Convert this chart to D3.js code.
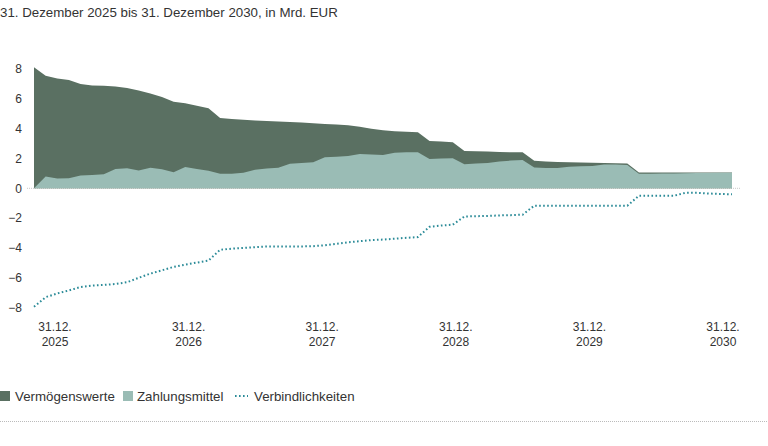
<!DOCTYPE html>
<html>
<head>
<meta charset="utf-8">
<script src="https://cdn.jsdelivr.net/npm/d3@7"></script>
<style>
  body { margin: 0; background: #fff; }
  text { font-family: "Liberation Sans", Arial, sans-serif; fill: #333; }
</style>
</head>
<body>
<script>
const canvWidth = 768, canvHeight = 446;

// monthly values, 31.12.2025 .. 31.12.2030 (61 points)
const vermoegenswerte = [
  8.12, 7.55, 7.37, 7.26, 7.00, 6.90, 6.87, 6.83, 6.73, 6.55, 6.35, 6.12, 5.80,
  5.70, 5.54, 5.37, 4.72, 4.65, 4.60, 4.55, 4.52, 4.48, 4.45, 4.41, 4.37,
  4.32, 4.27, 4.22, 4.12, 4.00, 3.90, 3.83, 3.80, 3.76, 3.18, 3.14, 3.09,
  2.50, 2.48, 2.46, 2.43, 2.42, 2.42, 1.84, 1.80, 1.77, 1.75, 1.73, 1.71,
  1.70, 1.68, 1.66, 1.06, 1.06, 1.06, 1.06, 1.06, 1.06, 1.06, 1.06, 1.06
];
const zahlungsmittel = [
  0.00, 0.79, 0.65, 0.67, 0.85, 0.90, 0.95, 1.30, 1.35, 1.20, 1.38, 1.28, 1.08,
  1.42, 1.30, 1.18, 0.97, 0.97, 1.05, 1.25, 1.32, 1.37, 1.65, 1.70, 1.75,
  2.08, 2.12, 2.16, 2.30, 2.26, 2.24, 2.38, 2.42, 2.42, 1.97, 2.00, 2.02,
  1.62, 1.66, 1.70, 1.80, 1.86, 1.89, 1.39, 1.36, 1.36, 1.44, 1.48, 1.50,
  1.60, 1.60, 1.57, 0.97, 0.98, 0.99, 1.00, 1.01, 1.02, 1.03, 1.04, 1.05
];
const verbindlichkeiten = [
  -7.95, -7.30, -7.05, -6.85, -6.62, -6.52, -6.48, -6.42, -6.30, -6.00, -5.72, -5.50, -5.27,
  -5.12, -4.98, -4.85, -4.12, -4.05, -4.00, -3.95, -3.90, -3.90, -3.90, -3.90, -3.88,
  -3.82, -3.72, -3.62, -3.55, -3.47, -3.44, -3.38, -3.32, -3.27, -2.58, -2.50, -2.44,
  -1.89, -1.87, -1.85, -1.82, -1.80, -1.77, -1.17, -1.17, -1.17, -1.17, -1.17, -1.17,
  -1.17, -1.17, -1.17, -0.50, -0.50, -0.50, -0.50, -0.30, -0.30, -0.35, -0.38, -0.40
];
const years = ["2025", "2026", "2027", "2028", "2029", "2030"];
const yTicks = [-8, -6, -4, -2, 0, 2, 4, 6, 8];

const colDark = "#5a7062", colLight = "#9abcb5", colLine = "#2b8b98";

const svg = d3.select("body").append("svg")
    .attr("width", canvWidth)
    .attr("height", canvHeight);

svg.append("text")
    .attr("x", 0)
    .attr("y", 17)
    .attr("font-size", "13.3px")
    .text("31. Dezember 2025 bis 31. Dezember 2030, in Mrd. EUR");

const xScale = d3.scaleLinear().domain([0, vermoegenswerte.length - 1]).range([34, 732]);
const yScale = d3.scaleLinear().domain([-8, 8]).range([307.6, 69]);
const labelScale = d3.scalePoint().domain(years).range([55, 723]);

// zero line
svg.append("line")
    .attr("x1", 27).attr("x2", 740)
    .attr("y1", yScale(0)).attr("y2", yScale(0))
    .attr("stroke", "#c8c8c8")
    .attr("stroke-width", 1)
    .attr("stroke-dasharray", "1,1");

const area = vals => d3.area()
    .x((d, i) => xScale(i))
    .y0(yScale(0))
    .y1(d => yScale(d))(vals);

svg.append("path").attr("d", area(vermoegenswerte)).attr("fill", colDark);
svg.append("path").attr("d", area(zahlungsmittel)).attr("fill", colLight);

svg.append("path")
    .attr("d", d3.line().x((d, i) => xScale(i)).y(d => yScale(d))(verbindlichkeiten))
    .attr("fill", "none")
    .attr("stroke", colLine)
    .attr("stroke-width", 2)
    .attr("stroke-dasharray", "1.6,2.4");

// y axis
const yAxis = svg.append("g")
    .attr("transform", "translate(22,0)")
    .call(d3.axisLeft(yScale).tickValues(yTicks).tickSize(0).tickPadding(0));
yAxis.select(".domain").remove();
yAxis.selectAll("text")
    .attr("font-size", "12px")
    .attr("font-family", "Liberation Sans, Arial, sans-serif")
    .attr("fill", "#333");

// x labels
const xl = svg.append("g").selectAll("text")
    .data(years)
    .enter().append("text")
    .attr("x", d => labelScale(d))
    .attr("y", 331)
    .attr("font-size", "12px")
    .style("text-anchor", "middle");
xl.append("tspan").attr("x", d => labelScale(d)).text("31.12.");
xl.append("tspan").attr("x", d => labelScale(d)).attr("dy", 15).text(d => d);

// legend
const legend = svg.append("g").attr("transform", "translate(0,396)");
legend.append("rect").attr("x", 0).attr("y", -5).attr("width", 10).attr("height", 10).attr("fill", colDark);
legend.append("text").attr("x", 15).attr("y", 4.5).attr("font-size", "13.3px").text("Vermögenswerte");
legend.append("rect").attr("x", 123).attr("y", -5).attr("width", 10).attr("height", 10).attr("fill", colLight);
legend.append("text").attr("x", 137).attr("y", 4.5).attr("font-size", "13.3px").text("Zahlungsmittel");
legend.append("line").attr("x1", 235).attr("x2", 248).attr("y1", 0).attr("y2", 0)
    .attr("stroke", colLine).attr("stroke-width", 2).attr("stroke-dasharray", "1.6,2.4");
legend.append("text").attr("x", 254).attr("y", 4.5).attr("font-size", "13.3px").text("Verbindlichkeiten");

// bottom separator
svg.append("line")
    .attr("x1", 0).attr("x2", canvWidth)
    .attr("y1", 421.5).attr("y2", 421.5)
    .attr("stroke", "#bbb")
    .attr("stroke-width", 1)
    .attr("stroke-dasharray", "1,1");
</script>
</body>
</html>
